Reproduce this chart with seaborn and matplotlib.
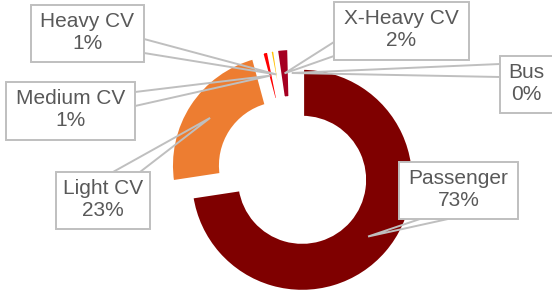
import numpy as np
import seaborn as sns
import matplotlib.pyplot as plt
from matplotlib.patches import Rectangle, Polygon

# vehicle mix (share of units, %)
segments = ['Passenger', 'Light CV', 'Medium CV', 'Heavy CV', 'X-Heavy CV', 'Bus']
shares = [72.6, 23.2, 1.1, 0.8, 1.9, 0.4]
seg_colors = ['#7F0000', '#ED7D31', '#FF0000', '#FFC000', '#A50021', '#C00000']

sns.set_theme(style='white')
plt.rcParams['font.family'] = ['Liberation Sans', 'DejaVu Sans']

W, H = 552, 295
fig = plt.figure(figsize=(W / 100, H / 100), dpi=100)
ax = fig.add_axes([0, 0, 1, 1])

pal = sns.color_palette(seg_colors)
wedges, _ = ax.pie(shares, colors=pal, startangle=90, counterclock=False,
                   radius=112, center=(293, H - 172), explode=[12] * len(shares),
                   wedgeprops=dict(width=50, edgecolor='white', linewidth=2.9))

ax.set_xlim(0, W)
ax.set_ylim(0, H)
ax.set_aspect('equal')
ax.axis('off')

# callout boxes (left, top, right, bottom in px, y down) and pointer base points
boxes = {
    'Passenger': ((399, 162, 518, 219), [(420, 219), (448, 219)]),
    'Light CV': ((56, 172, 150, 229), [(113, 172), (140, 172)]),
    'Medium CV': ((6, 82, 135, 140), [(135, 92), (135, 106)]),
    'Heavy CV': ((31, 5, 144, 62), [(144, 39), (144, 53)]),
    'X-Heavy CV': ((334, 2, 469, 60), [(334, 42), (334, 56)]),
    'Bus': ((500, 56, 553, 113), [(500, 64), (500, 77)]),
}

total = sum(shares)
gray = '#BFBFBF'
for w, name, v in zip(wedges, segments, shares):
    tm = np.deg2rad((w.theta1 + w.theta2) / 2)
    rm = w.r - w.width / 2
    apex = (w.center[0] + rm * np.cos(tm), w.center[1] + rm * np.sin(tm))
    (l, t, r, b), base = boxes[name]
    (x1, y1), (x2, y2) = base
    ax.add_patch(Polygon([(x1, H - y1), apex, (x2, H - y2)], closed=False,
                         fill=False, edgecolor=gray, linewidth=1.4, zorder=3))
    ax.add_patch(Rectangle((l, H - b), r - l, b - t, facecolor='white',
                           edgecolor=gray, linewidth=1.4, zorder=4))
    ax.text((l + r) / 2, H - (t + b) / 2 + 1, f'{name}\n{round(v / total * 100)}%',
            ha='center', va='center', fontsize=15, color='#595959',
            linespacing=1.2, zorder=5)

fig.savefig('out.png', dpi=100)
